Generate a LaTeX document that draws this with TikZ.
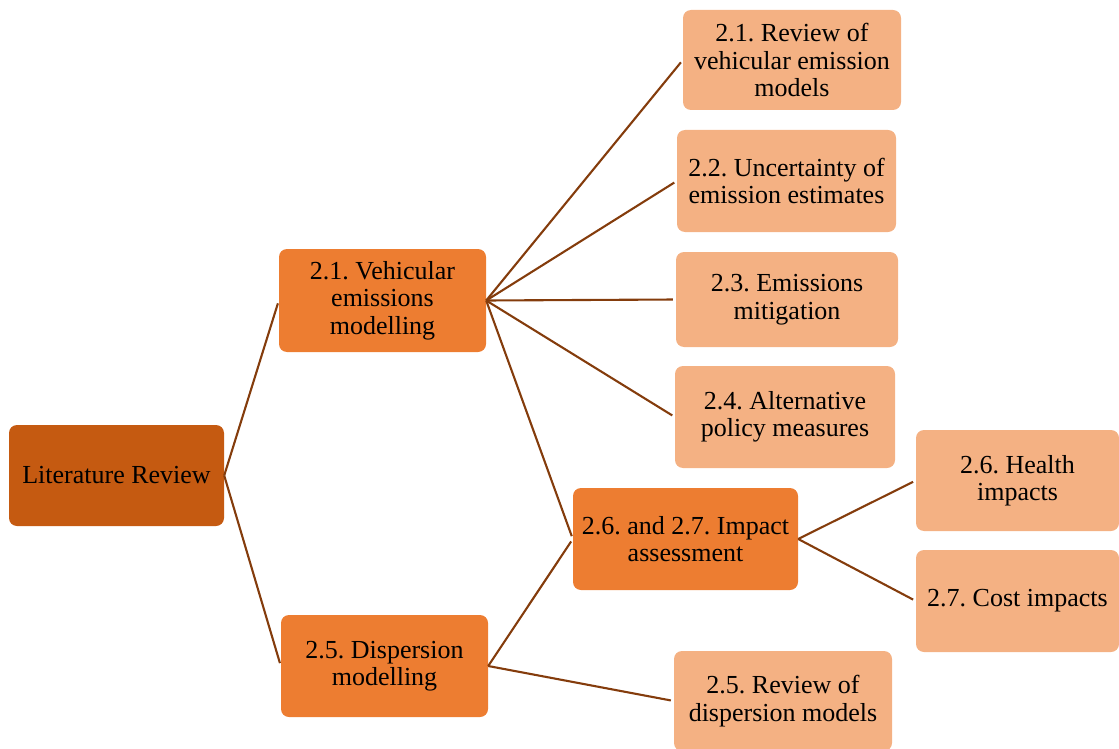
\documentclass[tikz,border=0pt]{standalone}
\usepackage{fontspec}
\setmainfont{Liberation Serif}
\frenchspacing
\definecolor{rootfill}{HTML}{C55A11}
\definecolor{midfill}{HTML}{ED7D31}
\definecolor{leaffill}{HTML}{F4B183}
\definecolor{linkcol}{HTML}{843C0C}
\begin{document}
\begin{tikzpicture}[x=1pt,y=-1pt,
  box/.style={rounded corners=8pt, align=center, inner sep=0pt,
    font=\fontsize{26}{27.5}\selectfont, text=black},
  rootbox/.style={box, fill=rootfill},
  midbox/.style={box, fill=midfill},
  leafbox/.style={box, fill=leaffill},
  link/.style={draw=linkcol, line width=2.1pt, shorten >=3pt}]
\useasboundingbox (0,0) rectangle (1119,749);

% root and branch boxes
\node[rootbox, minimum width=215, minimum height=101] (lit) at (116.5,475.5) {Literature Review};
\node[midbox, minimum width=207, minimum height=103] (veh) at (382.5,300.5) {2.1. Vehicular\\emissions\\modelling};
\node[midbox, minimum width=207, minimum height=102] (disp) at (384.5,666) {2.5. Dispersion\\modelling};
\node[midbox, minimum width=225, minimum height=102] (imp) at (685.5,539) {2.6. and 2.7. Impact\\assessment};

% leaf boxes
\node[leafbox, minimum width=218, minimum height=100] (rev) at (792,60) {2.1. Review of\\vehicular emission\\models};
\node[leafbox, minimum width=219, minimum height=102] (unc) at (786.5,181) {2.2. Uncertainty of\\emission estimates};
\node[leafbox, minimum width=222, minimum height=95] (mit) at (787,299.5) {2.3. Emissions\\mitigation};
\node[leafbox, minimum width=220, minimum height=102] (alt) at (785,417) {2.4. Alternative\\policy measures};
\node[leafbox, minimum width=203, minimum height=101] (hea) at (1017.5,480.5) {2.6. Health\\impacts};
\node[leafbox, minimum width=203, minimum height=102] (cost) at (1017.5,601) {2.7. Cost impacts};
\node[leafbox, minimum width=218, minimum height=100] (rdm) at (783,701) {2.5. Review of\\dispersion models};

% connectors
\draw[link] (lit.east) -- (veh.west);
\draw[link] (lit.east) -- (disp.west);
\draw[link] (veh.east) -- (rev.west);
\draw[link] (veh.east) -- (unc.west);
\draw[link] (veh.east) -- (mit.west);
\draw[link] (veh.east) -- (alt.west);
\draw[link] (veh.east) -- (imp.west);
\draw[link] (disp.east) -- (imp.west);
\draw[link] (disp.east) -- (rdm.west);
\draw[link] (imp.east) -- (hea.west);
\draw[link] (imp.east) -- (cost.west);
\end{tikzpicture}
\end{document}
